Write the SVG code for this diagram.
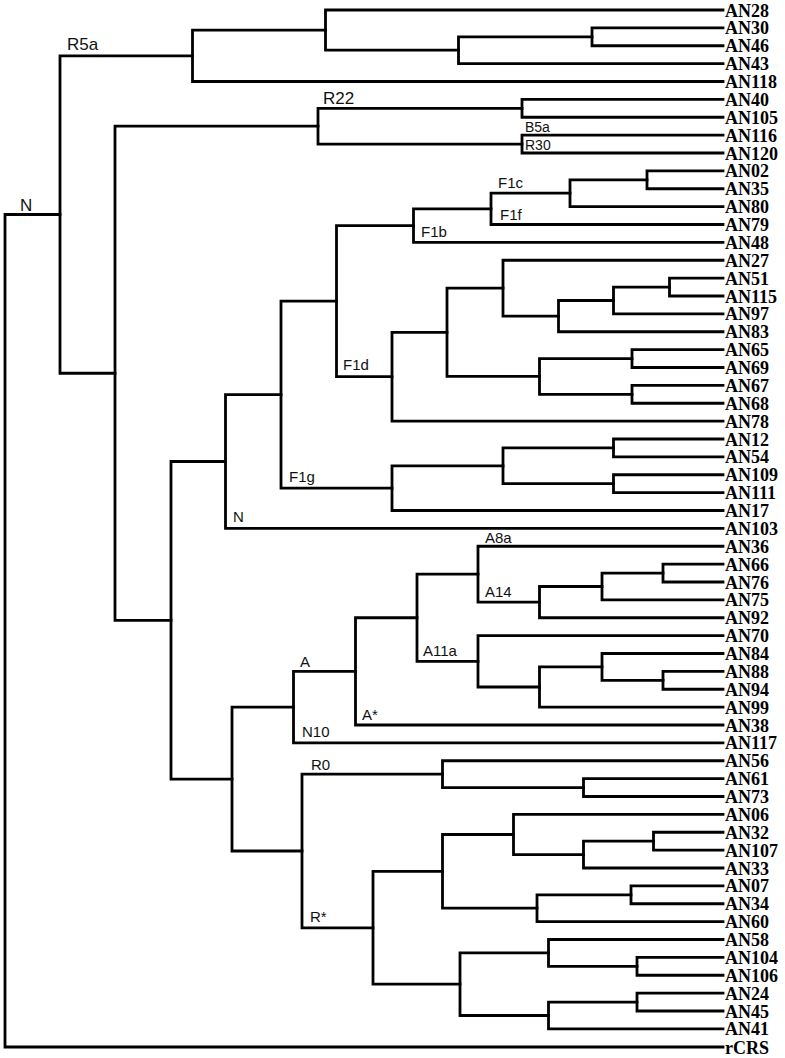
<svg xmlns="http://www.w3.org/2000/svg" width="785" height="1058" viewBox="0 0 785 1058">
<style>
.b{fill:none;stroke:#000;stroke-width:2.8;stroke-linecap:square;stroke-linejoin:miter}
.leaf{font-family:"Liberation Serif","Times New Roman",serif;font-weight:bold;font-size:18px;fill:#000}
.cl{font-family:"Liberation Sans",Arial,sans-serif;font-size:15px;fill:#111}
.cm{font-family:"Liberation Sans",Arial,sans-serif;font-size:17px;fill:#111}
.cs{font-family:"Liberation Sans",Arial,sans-serif;font-size:14px;fill:#111}
</style>
<rect width="785" height="1058" fill="#fff"/>
<g id="connectors">
<path class="b" d="M723 27.9H592V45.75H723"/>
<path class="b" d="M592 36.8H458.5V63.6H723"/>
<path class="b" d="M723 10H325.5V50.2H458.5"/>
<path class="b" d="M325.5 30.1H192.5V81.5H723"/>
<path class="b" d="M723 99.4H522V117.25H723"/>
<path class="b" d="M723 135.1H522V153H723"/>
<path class="b" d="M522 108.3H318V144.05H522"/>
<path class="b" d="M723 170.9H647V188.75H723"/>
<path class="b" d="M647 179.8H570V206.6H723"/>
<path class="b" d="M570 193.2H491V224.5H723"/>
<path class="b" d="M491 208.85H413.5V242.4H723"/>
<path class="b" d="M723 278.1H669.5V296H723"/>
<path class="b" d="M669.5 287.05H613.5V313.9H723"/>
<path class="b" d="M613.5 300.5H558.5V331.75H723"/>
<path class="b" d="M723 260.25H503V316.1H558.5"/>
<path class="b" d="M723 349.6H632V367.5H723"/>
<path class="b" d="M723 385.4H632V403.25H723"/>
<path class="b" d="M632 358.55H539.5V394.3H632"/>
<path class="b" d="M503 288.2H447V376.4H539.5"/>
<path class="b" d="M447 332.3H392V421.1H723"/>
<path class="b" d="M413.5 225.6H336.5V376.7H392"/>
<path class="b" d="M723 439H613.5V456.9H723"/>
<path class="b" d="M723 474.75H613.5V492.6H723"/>
<path class="b" d="M613.5 447.95H503V483.7H613.5"/>
<path class="b" d="M503 465.8H392V510.5H723"/>
<path class="b" d="M336.5 301.15H281V488.15H392"/>
<path class="b" d="M281 394.65H225.5V528.4H723"/>
<path class="b" d="M723 564.1H663V582H723"/>
<path class="b" d="M663 573.05H602V599.9H723"/>
<path class="b" d="M602 586.5H539.5V617.75H723"/>
<path class="b" d="M723 546.25H478V602.1H539.5"/>
<path class="b" d="M723 671.4H663V689.25H723"/>
<path class="b" d="M723 653.5H602V680.3H663"/>
<path class="b" d="M602 666.9H539.5V707.1H723"/>
<path class="b" d="M723 635.6H478V687H539.5"/>
<path class="b" d="M478 574.2H417V661.3H478"/>
<path class="b" d="M417 617.75H355.5V725H723"/>
<path class="b" d="M355.5 671.4H293.5V742.9H723"/>
<path class="b" d="M723 778.6H583.5V796.5H723"/>
<path class="b" d="M723 760.75H442.5V787.55H583.5"/>
<path class="b" d="M723 832.25H653.5V850.1H723"/>
<path class="b" d="M653.5 841.2H583.5V868H723"/>
<path class="b" d="M723 814.4H513.5V854.6H583.5"/>
<path class="b" d="M723 885.9H631V903.75H723"/>
<path class="b" d="M631 894.8H537V921.6H723"/>
<path class="b" d="M513.5 834.5H442.5V908.2H537"/>
<path class="b" d="M723 957.4H637V975.25H723"/>
<path class="b" d="M723 939.5H548.5V966.3H637"/>
<path class="b" d="M723 993.1H637V1011H723"/>
<path class="b" d="M637 1002.05H548.5V1028.9H723"/>
<path class="b" d="M548.5 952.9H460V1015.5H548.5"/>
<path class="b" d="M442.5 871.35H373V984.2H460"/>
<path class="b" d="M442.5 774.15H302V927.8H373"/>
<path class="b" d="M293.5 707.15H232V851H302"/>
<path class="b" d="M225.5 461.5H171V779.1H232"/>
<path class="b" d="M318 126.2H115V620.3H171"/>
<path class="b" d="M192.5 55.8H60V373.25H115"/>
<path class="b" d="M60 214.5H5V1047H723"/>
</g>
<g id="clade-labels">
<g id="lbl-N-root"><text class="cm" x="20" y="211" font-size="18">N</text></g>
<g id="lbl-R5a"><text class="cm" x="67" y="50">R5a</text></g>
<g id="lbl-R22"><text class="cm" x="323" y="104">R22</text></g>
<g id="lbl-B5a"><text class="cs" x="525" y="132">B5a</text></g>
<g id="lbl-R30"><text class="cs" x="525" y="150">R30</text></g>
<g id="lbl-F1c"><text class="cl" x="498" y="188">F1c</text></g>
<g id="lbl-F1f"><text class="cl" x="500" y="220">F1f</text></g>
<g id="lbl-F1b"><text class="cl" x="421" y="237">F1b</text></g>
<g id="lbl-F1d"><text class="cl" x="343" y="370">F1d</text></g>
<g id="lbl-F1g"><text class="cl" x="289" y="482">F1g</text></g>
<g id="lbl-N"><text class="cl" x="233" y="521.5">N</text></g>
<g id="lbl-A8a"><text class="cl" x="485" y="542.5">A8a</text></g>
<g id="lbl-A14"><text class="cl" x="485" y="597">A14</text></g>
<g id="lbl-A11a"><text class="cl" x="423" y="656">A11a</text></g>
<g id="lbl-A"><text class="cl" x="300" y="667">A</text></g>
<g id="lbl-Astar"><text class="cl" x="362" y="720">A*</text></g>
<g id="lbl-N10"><text class="cl" x="302" y="737">N10</text></g>
<g id="lbl-R0"><text class="cl" x="311" y="770">R0</text></g>
<g id="lbl-Rstar"><text class="cl" x="310" y="921.5">R*</text></g>
</g>
<g id="leaves">
<g id="AN28"><text class="leaf" x="725" y="16.5">AN28</text></g>
<g id="AN30"><text class="leaf" x="725" y="34.4">AN30</text></g>
<g id="AN46"><text class="leaf" x="725" y="52.25">AN46</text></g>
<g id="AN43"><text class="leaf" x="725" y="70.1">AN43</text></g>
<g id="AN118"><text class="leaf" x="725" y="88">AN118</text></g>
<g id="AN40"><text class="leaf" x="725" y="105.9">AN40</text></g>
<g id="AN105"><text class="leaf" x="725" y="123.75">AN105</text></g>
<g id="AN116"><text class="leaf" x="725" y="141.6">AN116</text></g>
<g id="AN120"><text class="leaf" x="725" y="159.5">AN120</text></g>
<g id="AN02"><text class="leaf" x="725" y="177.4">AN02</text></g>
<g id="AN35"><text class="leaf" x="725" y="195.25">AN35</text></g>
<g id="AN80"><text class="leaf" x="725" y="213.1">AN80</text></g>
<g id="AN79"><text class="leaf" x="725" y="231">AN79</text></g>
<g id="AN48"><text class="leaf" x="725" y="248.9">AN48</text></g>
<g id="AN27"><text class="leaf" x="725" y="266.75">AN27</text></g>
<g id="AN51"><text class="leaf" x="725" y="284.6">AN51</text></g>
<g id="AN115"><text class="leaf" x="725" y="302.5">AN115</text></g>
<g id="AN97"><text class="leaf" x="725" y="320.4">AN97</text></g>
<g id="AN83"><text class="leaf" x="725" y="338.25">AN83</text></g>
<g id="AN65"><text class="leaf" x="725" y="356.1">AN65</text></g>
<g id="AN69"><text class="leaf" x="725" y="374">AN69</text></g>
<g id="AN67"><text class="leaf" x="725" y="391.9">AN67</text></g>
<g id="AN68"><text class="leaf" x="725" y="409.75">AN68</text></g>
<g id="AN78"><text class="leaf" x="725" y="427.6">AN78</text></g>
<g id="AN12"><text class="leaf" x="725" y="445.5">AN12</text></g>
<g id="AN54"><text class="leaf" x="725" y="463.4">AN54</text></g>
<g id="AN109"><text class="leaf" x="725" y="481.25">AN109</text></g>
<g id="AN111"><text class="leaf" x="725" y="499.1">AN111</text></g>
<g id="AN17"><text class="leaf" x="725" y="517">AN17</text></g>
<g id="AN103"><text class="leaf" x="725" y="534.9">AN103</text></g>
<g id="AN36"><text class="leaf" x="725" y="552.75">AN36</text></g>
<g id="AN66"><text class="leaf" x="725" y="570.6">AN66</text></g>
<g id="AN76"><text class="leaf" x="725" y="588.5">AN76</text></g>
<g id="AN75"><text class="leaf" x="725" y="606.4">AN75</text></g>
<g id="AN92"><text class="leaf" x="725" y="624.25">AN92</text></g>
<g id="AN70"><text class="leaf" x="725" y="642.1">AN70</text></g>
<g id="AN84"><text class="leaf" x="725" y="660">AN84</text></g>
<g id="AN88"><text class="leaf" x="725" y="677.9">AN88</text></g>
<g id="AN94"><text class="leaf" x="725" y="695.75">AN94</text></g>
<g id="AN99"><text class="leaf" x="725" y="713.6">AN99</text></g>
<g id="AN38"><text class="leaf" x="725" y="731.5">AN38</text></g>
<g id="AN117"><text class="leaf" x="725" y="749.4">AN117</text></g>
<g id="AN56"><text class="leaf" x="725" y="767.25">AN56</text></g>
<g id="AN61"><text class="leaf" x="725" y="785.1">AN61</text></g>
<g id="AN73"><text class="leaf" x="725" y="803">AN73</text></g>
<g id="AN06"><text class="leaf" x="725" y="820.9">AN06</text></g>
<g id="AN32"><text class="leaf" x="725" y="838.75">AN32</text></g>
<g id="AN107"><text class="leaf" x="725" y="856.6">AN107</text></g>
<g id="AN33"><text class="leaf" x="725" y="874.5">AN33</text></g>
<g id="AN07"><text class="leaf" x="725" y="892.4">AN07</text></g>
<g id="AN34"><text class="leaf" x="725" y="910.25">AN34</text></g>
<g id="AN60"><text class="leaf" x="725" y="928.1">AN60</text></g>
<g id="AN58"><text class="leaf" x="725" y="946">AN58</text></g>
<g id="AN104"><text class="leaf" x="725" y="963.9">AN104</text></g>
<g id="AN106"><text class="leaf" x="725" y="981.75">AN106</text></g>
<g id="AN24"><text class="leaf" x="725" y="999.6">AN24</text></g>
<g id="AN45"><text class="leaf" x="725" y="1017.5">AN45</text></g>
<g id="AN41"><text class="leaf" x="725" y="1035.4">AN41</text></g>
<g id="rCRS"><text class="leaf" x="725" y="1053.5">rCRS</text></g>
</g>
</svg>
